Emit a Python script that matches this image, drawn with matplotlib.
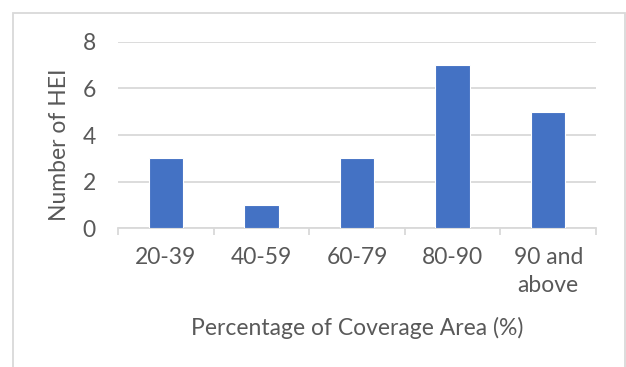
import matplotlib
matplotlib.use("Agg")
import matplotlib.pyplot as plt
from matplotlib.patches import Rectangle

categories = ["20-39", "40-59", "60-79", "80-90", "90 and\nabove"]
counts = [3, 1, 3, 7, 5]
y_ticks = [0, 2, 4, 6, 8]

text_col = "#595959"
grid_col = "#d9d9d9"
bar_col = "#4472c4"

plt.rcParams["font.family"] = ["Lato", "DejaVu Sans"]
plt.rcParams["font.size"] = 16.5

fig = plt.figure(figsize=(6.26, 3.67), dpi=100)
ax = fig.add_axes([0.1885, 0.3787, 0.7636, 0.5069])

x = list(range(len(categories)))
ax.bar(x, counts, width=0.36, color=bar_col, edgecolor="white", linewidth=0.8, zorder=3)

ax.set_xlim(-0.5, len(categories) - 0.5)
ax.set_ylim(0, 8)
ax.set_yticks(y_ticks)
ax.grid(axis="y", color=grid_col, linewidth=1.3, zorder=0)

for side in ["top", "right", "left"]:
    ax.spines[side].set_visible(False)
ax.spines["bottom"].set_color(grid_col)
ax.spines["bottom"].set_linewidth(1.3)

ax.set_xticks(x)
ax.set_xticklabels(categories, color=text_col, linespacing=1.4)
ax.tick_params(axis="x", which="major", length=0, pad=14)
ax.set_xticks([i - 0.5 for i in range(len(categories) + 1)], minor=True)
ax.tick_params(axis="x", which="minor", length=5, color=grid_col, width=1.3)
ax.tick_params(axis="y", length=0, pad=16, labelcolor=text_col)

ax.set_ylabel("Number of HEI", color=text_col)
ax.yaxis.set_label_coords(-0.123, 0.45)
ax.yaxis.label.set_va("center")
ax.set_xlabel("Percentage of Coverage Area (%)", color=text_col)
ax.xaxis.set_label_coords(0.5, -0.535)
ax.xaxis.label.set_va("center")

# light frame round the whole chart
fig.patches.append(Rectangle((13 / 626, -0.05), 612 / 626, 1.05 - 13 / 367,
                             transform=fig.transFigure, fill=False,
                             edgecolor=grid_col, linewidth=1.3))

fig.savefig("out.png", dpi=100)
